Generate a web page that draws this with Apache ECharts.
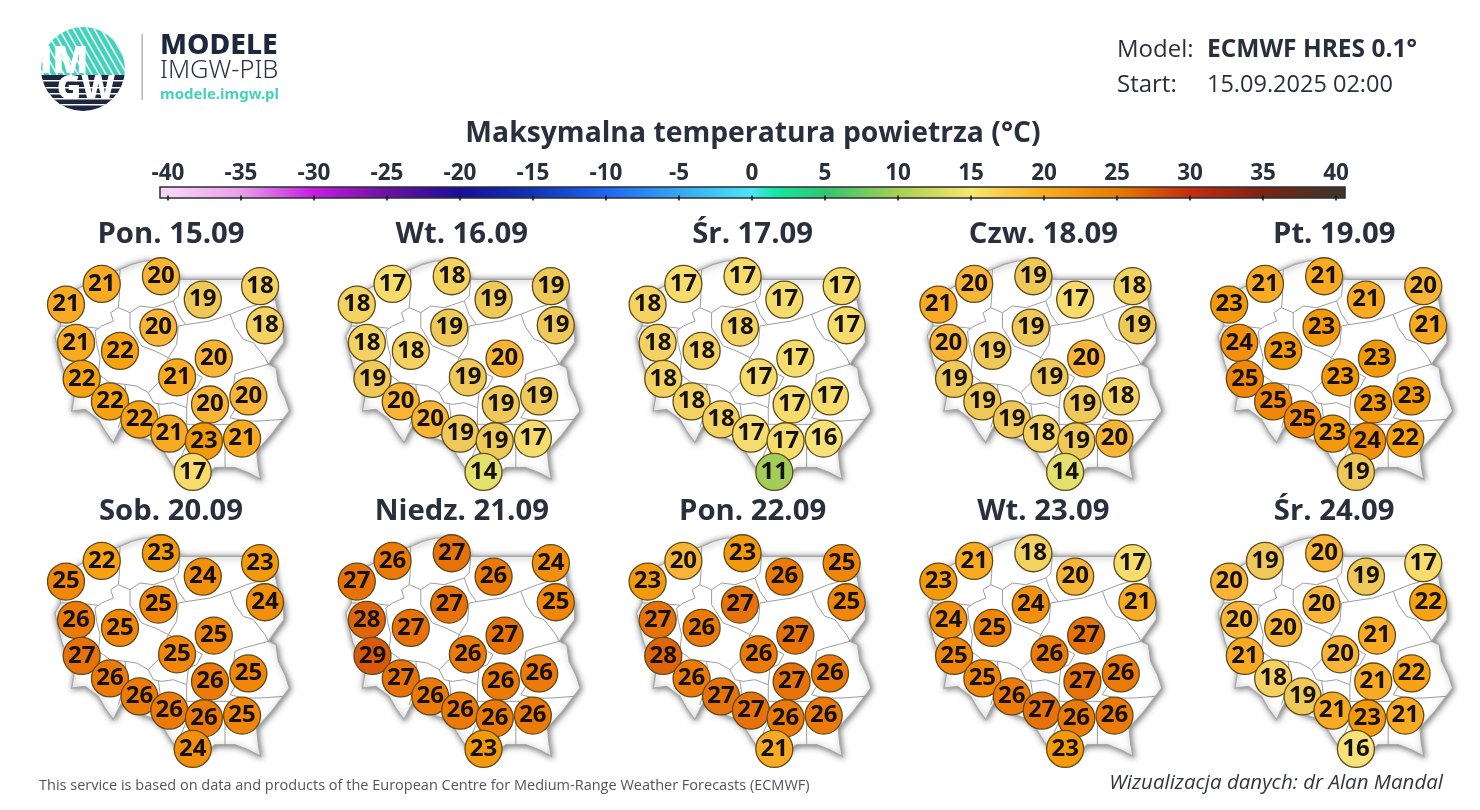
<!DOCTYPE html>
<html><head><meta charset="utf-8">
<script src="https://cdn.jsdelivr.net/npm/echarts@6/dist/echarts.min.js"></script>
<style>html,body{margin:0;padding:0;background:#fff}#c{width:1480px;height:810px}</style>
</head><body><div id="c"></div>
<script>
// ---------- data ----------
const panelTitles = ['Pon. 15.09','Wt. 16.09','Śr. 17.09','Czw. 18.09','Pt. 19.09',
                     'Sob. 20.09','Niedz. 21.09','Pon. 22.09','Wt. 23.09','Śr. 24.09'];
// station locations (longitude / latitude)
const stationLon = [16.10,18.63,14.57,20.42,22.87,23.08,15.00,16.88,18.52,20.89,15.24,19.32,16.45,20.73,22.37,17.71,18.99,20.47,22.10,19.99];
const stationLat = [54.20,54.40,53.66,53.79,54.14,53.12,52.66,52.45,53.06,52.25,51.72,51.76,51.13,51.05,51.26,50.66,50.29,50.09,50.16,49.29];
const tmax1  = [21,20,21,19,18,18,21,22,20,20,22,21,22,20,20,22,21,23,21,17];
const tmax2  = [17,18,18,19,19,19,18,18,19,20,19,19,20,19,19,20,19,19,17,14];
const tmax3  = [17,17,18,17,17,17,18,18,18,17,18,17,18,17,17,18,17,17,16,11];
const tmax4  = [20,19,21,17,18,19,20,19,19,20,19,19,19,19,18,19,18,19,20,14];
const tmax5  = [21,21,23,21,20,21,24,23,23,23,25,23,25,23,23,25,23,24,22,19];
const tmax6  = [22,23,25,24,23,24,26,25,25,25,27,25,26,26,25,26,26,26,25,24];
const tmax7  = [26,27,27,26,24,25,28,27,27,27,29,26,27,26,26,26,26,26,26,23];
const tmax8  = [20,23,23,26,25,25,27,26,27,27,28,26,26,27,26,27,27,26,26,21];
const tmax9  = [21,18,23,20,17,21,24,25,24,27,25,26,25,27,26,26,27,26,26,23];
const tmax10 = [19,20,20,19,17,22,20,20,20,21,21,20,18,21,22,19,21,23,21,16];
const panelValues = [tmax1,tmax2,tmax3,tmax4,tmax5,tmax6,tmax7,tmax8,tmax9,tmax10];

const scaleValues = [-40,-35,-30,-25,-20,-15,-10,-5,0,1.5,5,10,15,20,25,30,35,40];
const scaleColors = ['#f8d4f8','#e8a0e8','#c41ee0','#6c12a0','#1a0f96','#1034b4','#1e66f0','#34a8f0','#4ee4f8','#14e8a4','#34c470','#a6d050','#f8e66c','#f8ac20','#e67c00','#c42c10','#7a2414','#3e3428'];
const circleTemps  = [11,14,16,17,18,19,20,21,22,23,24,25,26,27,28,29];
const circleColors = ['#a4cc58','#e4e06c','#f6e278','#f5dc6c','#f3d262','#eec858','#f8b436','#f8aa22','#f6a212','#f39a0c','#f2900e','#f0860a','#ec7a08','#e8720a','#e0640a','#da5a0c'];

// ---------- map geometry (traced in a local sketch grid, converted to lon/lat) ----------
const outlineTrace = [[85,255],[130,240],[165,222],[220,195],[270,175],[305,160],[345,150],[385,150],[425,175],[450,205],[500,205],[570,205],[640,205],[690,200],[730,225],[738,275],[745,310],[760,345],[762,395],[740,425],[715,460],[738,470],[745,520],[765,560],[778,600],[755,630],[725,670],[680,720],[685,770],[692,805],[655,785],[615,770],[555,770],[530,790],[490,820],[450,790],[425,760],[400,720],[365,690],[335,680],[300,660],[275,645],[262,670],[250,695],[225,660],[205,625],[165,595],[125,600],[132,560],[130,530],[110,500],[95,460],[85,420],[75,375],[92,345],[90,310],[85,255]];
const borderTraces = [
 [[270,175],[268,220],[268,255],[265,290],[242,305],[250,330],[215,345],[195,360],[200,400],[210,440],[205,490],[220,500]],
 [[205,352],[190,350],[140,345],[92,345]],
 [[215,495],[190,510],[130,530]],
 [[265,290],[300,305],[330,285],[370,290],[430,270],[445,255],[450,205]],
 [[300,305],[300,350],[335,405],[375,420],[415,440]],
 [[430,270],[445,310],[467,341],[540,330],[600,310],[650,290],[738,265]],
 [[467,341],[445,345],[440,400],[415,440]],
 [[600,310],[615,350],[640,385],[670,395],[705,440],[715,460]],
 [[715,460],[640,480],[615,490],[610,530],[630,570],[600,620],[640,630],[690,630],[760,625]],
 [[415,440],[390,510],[355,545]],
 [[415,440],[470,470],[500,490],[517,499],[500,530],[475,540],[470,590],[470,640]],
 [[470,590],[430,575],[395,580],[370,575],[355,545]],
 [[220,500],[240,515],[285,520],[320,525],[355,545]],
 [[285,520],[290,570],[265,650]],
 [[385,578],[390,615],[370,690]],
 [[430,670],[470,700],[440,770]],
 [[470,640],[500,640],[600,640],[585,700],[585,770]]
];
const LON0=14.1, LAT0=54.85, KLON=0.04277, KLAT=0.02612;
const toLonLat = p => [LON0+((p[0]/3+30)-55)*KLON, LAT0-((p[1]/3+210)-258)*KLAT];

echarts.registerMap('poland',{type:'FeatureCollection',features:[{type:'Feature',properties:{name:'PL'},
  geometry:{type:'Polygon',coordinates:[outlineTrace.map(toLonLat)]}}]});

const chart = echarts.init(document.getElementById('c'),null,{renderer:'canvas'});
const ink='#2a2f3e', navy='#1e2740', teal='#45d2bd';
const FONT='"Open Sans"';
const colOf=i=>i%5, rowOf=i=>Math.floor(i/5);
const DX=290.8, DY=277;

const geos=[], series=[], titles=[];
titles.push({text:'Maksymalna temperatura powietrza (°C)',left:753,top:120,padding:0,textAlign:'center',
  textStyle:{fontFamily:FONT,fontWeight:700,fontSize:28.3,color:ink}});
panelTitles.forEach((t,i)=>{
  const col=colOf(i),row=rowOf(i);
  titles.push({text:t,left:171+DX*col,top:220+DY*row,padding:0,textAlign:'center',
    textStyle:{fontFamily:FONT,fontWeight:700,fontSize:29.3,color:ink}});
  geos.push({map:'poland',silent:true,roam:false,aspectScale:0.6107,
    boundingCoords:[[14.1,54.85],[24.15,49.0]],
    left:55+DX*col,top:259+DY*row,width:235,height:224,
    label:{show:false},
    itemStyle:{areaColor:'#fff',borderColor:'#a8a8a8',borderWidth:1.2,shadowColor:'rgba(0,0,0,.55)',shadowBlur:6,shadowOffsetX:1,shadowOffsetY:1},
    emphasis:{disabled:true},select:{disabled:true}});
  series.push({type:'lines',coordinateSystem:'geo',geoIndex:i,polyline:true,silent:true,z:3,
    lineStyle:{color:'#9c9c9c',width:1,opacity:1},
    data:borderTraces.map(b=>({coords:b.map(toLonLat)}))});
  series.push({type:'scatter',coordinateSystem:'geo',geoIndex:i,symbol:'circle',symbolSize:37,z:5,silent:true,
    itemStyle:{borderColor:'#5e4a1c',borderWidth:1.3,opacity:1},
    label:{show:true,position:'inside',formatter:p=>p.value[2],fontFamily:'"Liberation Sans Narrow","Open Sans"',fontWeight:700,fontSize:24,color:'#14110c'},
    data:panelValues[i].map((v,k)=>[stationLon[k],stationLat[k],v])});
});

const barL=160,barW=1185,axisL=168,axisW=1168;
const stops=scaleValues.map((v,i)=>({offset:(axisL-barL+(v+40)/80*axisW)/barW,color:scaleColors[i]}));
const barGradient=new echarts.graphic.LinearGradient(0,0,1,0,
  [{offset:0,color:scaleColors[0]},...stops,{offset:1,color:scaleColors[scaleColors.length-1]}]);

const hatch=(()=>{let s='';for(let i=-60;i<120;i+=7)s+=`<line x1="${i}" y1="0" x2="${i+48}" y2="84" stroke="white" stroke-width="1.5"/>`;
  let b='';for(const y of [53,60,66,71,77])b+=`<rect x="0" y="${y}" width="84" height="1.5" fill="white"/>`;
  return `<svg xmlns="http://www.w3.org/2000/svg" width="84" height="84" viewBox="0 0 84 84"><defs><clipPath id="c"><circle cx="42" cy="42" r="42"/></clipPath></defs><g clip-path="url(#c)"><rect width="84" height="49" fill="${teal}"/>${s}<rect y="48" width="84" height="36" fill="${navy}"/>${b}</g></svg>`;
})();

const txt=(text,x,y,font,fill,align)=>({type:'text',z:20,style:{text,x,y,font,fill,textAlign:align||'left',textVerticalAlign:'middle'}});
const graphic=[
  {type:'rect',z:0,shape:{x:barL,y:187,width:barW,height:11},style:{fill:barGradient,stroke:'#2c2c36',lineWidth:1.5}},
  {type:'image',z:10,style:{image:'data:image/svg+xml;utf8,'+encodeURIComponent(hatch),x:41,y:27,width:84,height:84}},
  txt('IM',64,62,`800 37px "Open Sans"`,'#fff','center'),
  txt('GW',86,90,`800 33px "Open Sans"`,'#fff','center'),
  {type:'rect',z:10,shape:{x:141.5,y:34,width:1.4,height:66},style:{fill:'#b0b0b0'}},
  txt('MODELE',160,46,`800 28.3px "Noto Sans"`,navy),
  txt('IMGW-PIB',160,71,`300 25.4px "Noto Sans"`,'#2c3348'),
  txt('modele.imgw.pl',160,95,`700 15px "Noto Sans"`,teal),
  txt('Model:',1117,50,`400 24px "Open Sans"`,ink),
  txt('ECMWF HRES 0.1°',1207,50,`700 24.5px "Open Sans"`,ink),
  txt('Start:',1117,85,`400 24px "Open Sans"`,ink),
  txt('15.09.2025 02:00',1207,85,`400 23.5px "Open Sans"`,ink),
  txt('This service is based on data and products of the European Centre for Medium-Range Weather Forecasts (ECMWF)',39,786,`400 14.5px "Open Sans"`,'#50545e'),
  txt('Wizualizacja danych: dr Alan Mandal',1443,783,`italic 400 20.5px "Open Sans"`,'#33363f','right')
];

const scaleAxis=(pos,label)=>({type:'value',gridIndex:0,position:pos,min:-40,max:40,interval:5,
  axisLine:{show:false},splitLine:{show:false},
  axisTick:{show:true,inside:true,length:2.5,lineStyle:{color:'#111',width:1.5}},
  axisLabel:label?{show:true,margin:2,fontFamily:FONT,fontWeight:700,fontSize:22.5,color:ink,hideOverlap:false,showMinLabel:true,showMaxLabel:true}:{show:false}});

chart.setOption({
  animation:false,backgroundColor:'#fff',
  title:titles,geo:geos,graphic:{elements:graphic},
  grid:[{left:axisL,width:axisW,top:187,height:11,show:false}],
  xAxis:[scaleAxis('top',true),scaleAxis('bottom',false)],
  yAxis:[{type:'value',gridIndex:0,show:false,min:0,max:1}],
  visualMap:{type:'piecewise',show:false,dimension:2,
    seriesIndex:series.map((s,i)=>s.type==='scatter'?i:-1).filter(i=>i>=0),
    pieces:circleTemps.map((t,i)=>({value:t,color:circleColors[i]}))},
  series:series
});
</script></body></html>
